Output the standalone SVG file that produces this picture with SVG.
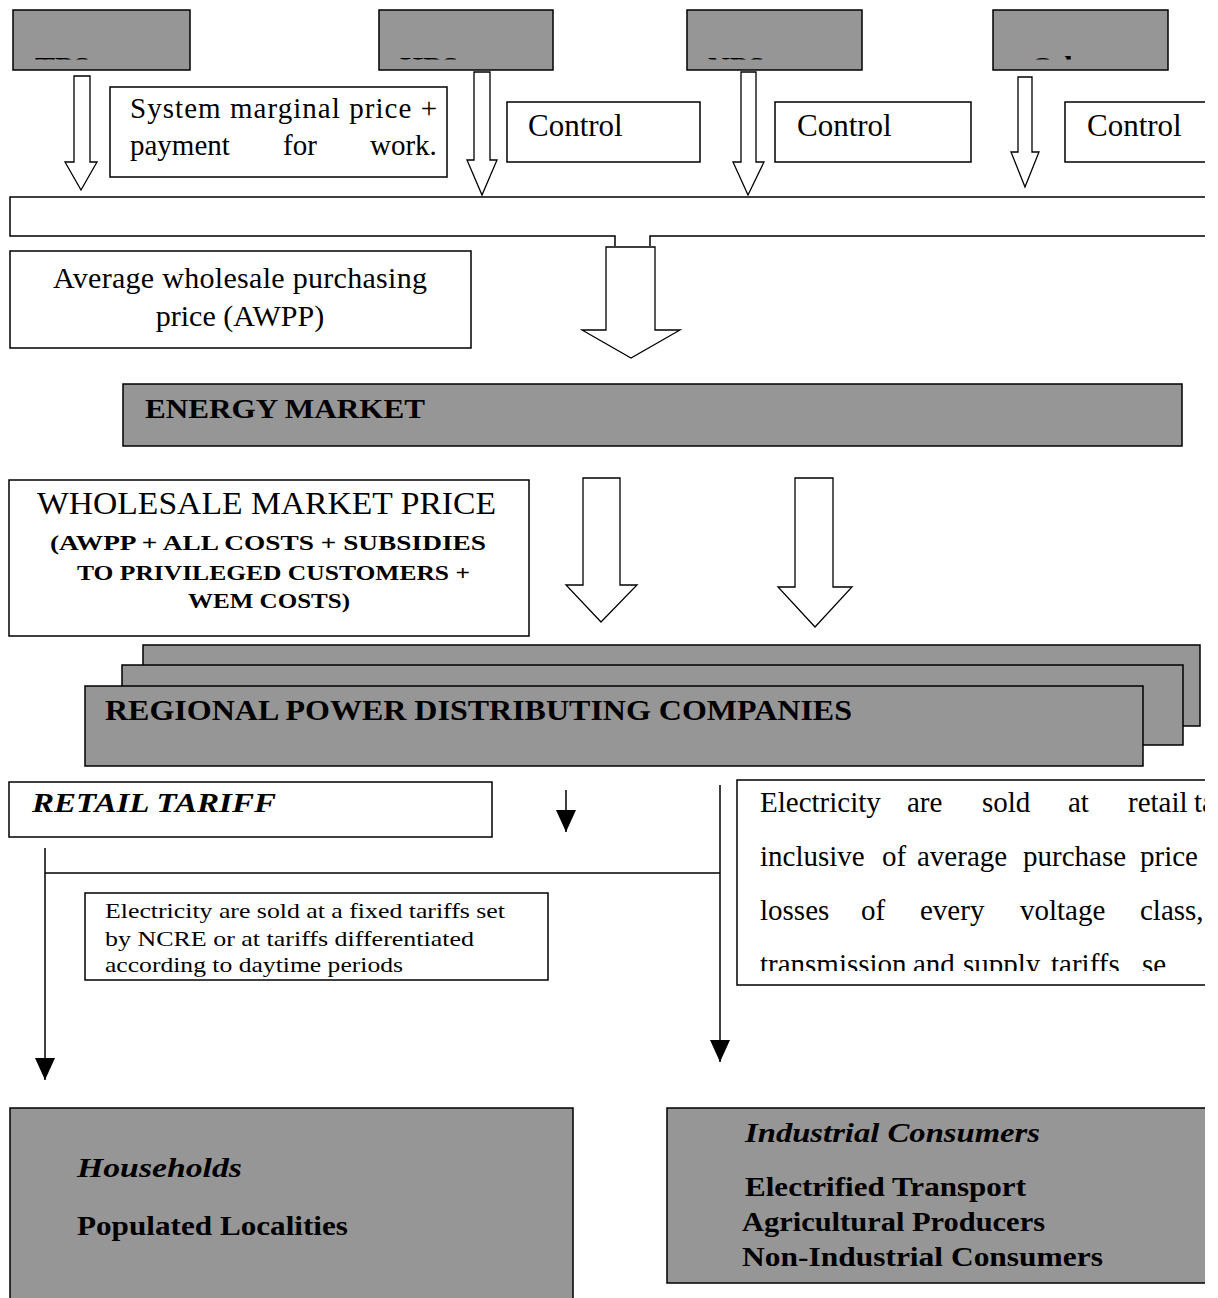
<svg xmlns="http://www.w3.org/2000/svg" width="1218" height="1298" viewBox="0 0 1218 1298">
<style>
.box{fill:#fff;stroke:#000;stroke-width:1.5}
.gbox{fill:#969696;stroke:#000;stroke-width:1.5}
.harrow{fill:#fff;stroke:#000;stroke-width:1.3;stroke-linejoin:miter}
.line{fill:none;stroke:#000;stroke-width:1.5}
.t{font-family:"Liberation Serif","Times New Roman",serif;fill:#000}
.b{font-weight:bold}
.i{font-style:italic}
</style>
<defs>
<clipPath id="page"><rect x="0" y="0" width="1205" height="1298"/></clipPath>
<clipPath id="lab"><rect x="0" y="55" width="1218" height="4.5"/></clipPath>
<clipPath id="rtext"><rect x="737" y="780" width="470" height="191"/></clipPath>
<marker id="ah" viewBox="0 0 22 20" refX="22" refY="10" markerWidth="22" markerHeight="20" markerUnits="userSpaceOnUse" orient="auto"><path d="M0,0 L22,10 L0,20 z" fill="#000"/></marker>
</defs>
<g clip-path="url(#page)">
<g id="gen1"><rect class="gbox" x="13" y="10" width="177" height="60"/><text class="t b" x="35" y="77" font-size="30" clip-path="url(#lab)">TPS</text></g>
<g id="gen2"><rect class="gbox" x="379" y="10" width="174" height="60"/><text class="t b" x="400" y="77" font-size="30" clip-path="url(#lab)">HPS</text></g>
<g id="gen3"><rect class="gbox" x="687" y="10" width="175" height="60"/><text class="t b" x="708" y="77" font-size="30" clip-path="url(#lab)">NPS</text></g>
<g id="gen4"><rect class="gbox" x="993" y="10" width="175" height="60"/><text class="t b" x="1031" y="77" font-size="30" clip-path="url(#lab)">Other</text></g>

<g id="smp"><rect class="box" x="110" y="87" width="337" height="90"/>
<text class="t" x="130" y="118" font-size="29" textLength="307" lengthAdjust="spacing">System marginal price +</text>
<text class="t" font-size="29" y="155"><tspan x="130">payment</tspan><tspan x="283">for</tspan><tspan x="370">work.</tspan></text></g>
<g id="ctrl1"><rect class="box" x="507" y="102" width="193" height="60"/><text class="t" x="528" y="136" font-size="31">Control</text></g>
<g id="ctrl2"><rect class="box" x="775" y="102" width="196" height="60"/><text class="t" x="797" y="136" font-size="31">Control</text></g>
<g id="ctrl3"><rect class="box" x="1065" y="102" width="160" height="60"/><text class="t" x="1087" y="136" font-size="31">Control</text></g>

<g id="connectors">
<polygon class="harrow" points="74,76 90,76 90,162 97,162 81,190 65,162 74,162"/>
<polygon class="harrow" points="474,72 490,72 490,160 497,160 482,195 467,160 474,160"/>
<polygon class="harrow" points="741,72 756,72 756,162 764,162 748,195 733,162 741,162"/>
<polygon class="harrow" points="1018,77 1032,77 1032,152 1039,152 1025,187 1011,152 1018,152"/>
<path class="line" d="M1230,197 H10 V236 H615 V246 M650,246 V236 H1230"/>
<polygon class="harrow" points="606,247 655,247 655,330 680,330 631,358 582,330 606,330"/>
<polygon class="harrow" points="583,478 620,478 620,585 637,585 601,622 566,585 583,585"/>
<polygon class="harrow" points="795,478 833,478 833,587 852,587 815,627 778,587 795,587"/>
<path class="line" d="M566,790 V832" marker-end="url(#ah)"/>
<path class="line" d="M45,848 V1080" marker-end="url(#ah)"/>
<path class="line" d="M45,873 H720"/>
<path class="line" d="M720,785 V1062" marker-end="url(#ah)"/>
</g>

<g id="awpp"><rect class="box" x="10" y="251" width="461" height="97"/>
<text class="t" x="240" y="288" font-size="30" text-anchor="middle" textLength="374" lengthAdjust="spacing">Average wholesale purchasing</text>
<text class="t" x="240" y="326" font-size="30" text-anchor="middle">price (AWPP)</text></g>

<g id="energy"><rect class="gbox" x="123" y="384" width="1059" height="62"/>
<text class="t b" x="145" y="418" font-size="27" textLength="280" lengthAdjust="spacingAndGlyphs">ENERGY MARKET</text></g>

<g id="wmp"><rect class="box" x="9" y="480" width="520" height="156"/>
<text class="t" x="37" y="514" font-size="31" textLength="459" lengthAdjust="spacingAndGlyphs">WHOLESALE MARKET PRICE</text>
<text class="t b" x="50" y="550" font-size="22" textLength="436" lengthAdjust="spacingAndGlyphs">(AWPP + ALL COSTS +  SUBSIDIES</text>
<text class="t b" x="77" y="580" font-size="22" textLength="393" lengthAdjust="spacingAndGlyphs">TO PRIVILEGED CUSTOMERS +</text>
<text class="t b" x="188" y="608" font-size="22" textLength="162" lengthAdjust="spacingAndGlyphs">WEM COSTS)</text></g>

<g id="rpdc">
<rect class="gbox" x="143" y="645" width="1057" height="81"/>
<rect class="gbox" x="122" y="665" width="1061" height="80"/>
<rect class="gbox" x="85" y="686" width="1058" height="80"/>
<text class="t b" x="105" y="720" font-size="30" textLength="747" lengthAdjust="spacingAndGlyphs">REGIONAL POWER DISTRIBUTING COMPANIES</text></g>

<g id="retail"><rect class="box" x="9" y="782" width="483" height="55"/>
<text class="t b i" x="32" y="812" font-size="27" textLength="244" lengthAdjust="spacingAndGlyphs">RETAIL TARIFF</text></g>

<g id="fixed"><rect class="box" x="85" y="893" width="463" height="87"/>
<text class="t" x="105" y="918" font-size="22" textLength="400" lengthAdjust="spacingAndGlyphs">Electricity are sold  at a fixed tariffs set</text>
<text class="t" x="105" y="946" font-size="22" textLength="369" lengthAdjust="spacingAndGlyphs">by NCRE or at tariffs differentiated</text>
<text class="t" x="105" y="972" font-size="22" textLength="298" lengthAdjust="spacingAndGlyphs">according to daytime periods</text></g>

<g id="retailsold"><path class="line" d="M1230,780 H737 V985 H1230"/>
<g clip-path="url(#rtext)">
<text class="t" font-size="29" y="812"><tspan x="760">Electricity</tspan><tspan x="907">are</tspan><tspan x="982">sold</tspan><tspan x="1068">at</tspan><tspan x="1128">retail</tspan><tspan x="1194">ta</tspan></text>
<text class="t" font-size="29" y="866"><tspan x="760">inclusive</tspan><tspan x="882">of</tspan><tspan x="917">average</tspan><tspan x="1023">purchase</tspan><tspan x="1140">price</tspan></text>
<text class="t" font-size="29" y="920"><tspan x="760">losses</tspan><tspan x="861">of</tspan><tspan x="920">every</tspan><tspan x="1020">voltage</tspan><tspan x="1140">class,</tspan></text>
<text class="t" font-size="29" y="974"><tspan x="760">transmission</tspan><tspan x="913">and</tspan><tspan x="963">supply</tspan><tspan x="1051">tariffs</tspan><tspan x="1142">se</tspan></text>
</g></g>

<g id="households"><rect class="gbox" x="10" y="1108" width="563" height="200"/>
<text class="t b i" x="77" y="1177" font-size="27" textLength="165" lengthAdjust="spacingAndGlyphs">Households</text>
<text class="t b" x="77" y="1235" font-size="27" textLength="271" lengthAdjust="spacingAndGlyphs">Populated Localities</text></g>

<g id="industrial"><rect class="gbox" x="667" y="1108" width="560" height="175"/>
<text class="t b i" x="745" y="1142" font-size="27" textLength="295" lengthAdjust="spacingAndGlyphs">Industrial Consumers</text>
<text class="t b" x="745" y="1196" font-size="27" textLength="281" lengthAdjust="spacingAndGlyphs">Electrified Transport</text>
<text class="t b" x="742" y="1231" font-size="27" textLength="303" lengthAdjust="spacingAndGlyphs">Agricultural Producers</text>
<text class="t b" x="742" y="1266" font-size="27" textLength="361" lengthAdjust="spacingAndGlyphs">Non-Industrial Consumers</text></g>
</g>
</svg>
